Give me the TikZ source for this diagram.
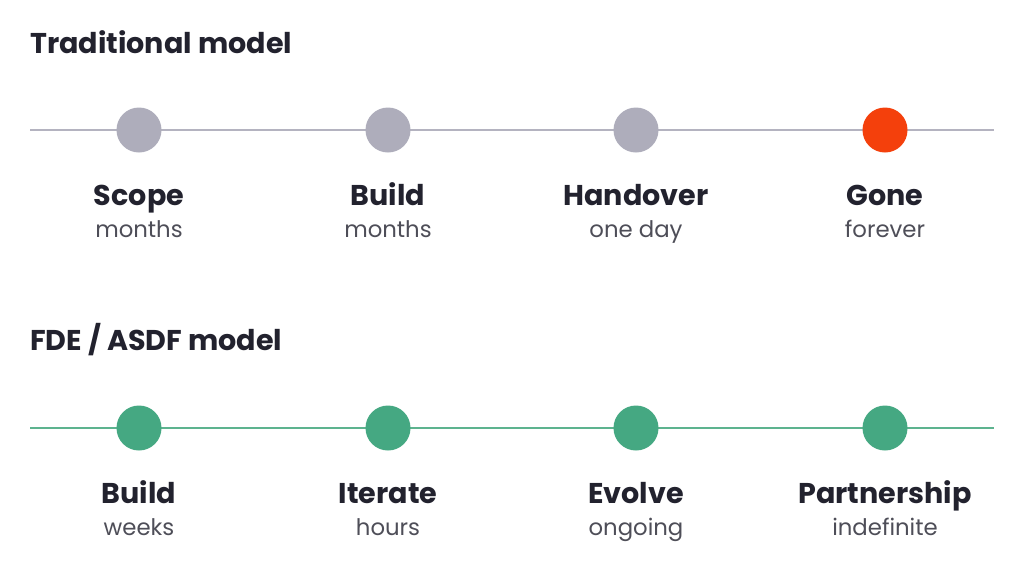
\documentclass[tikz,border=0pt]{standalone}
\usepackage{fontspec}
\setmainfont{Poppins}
\definecolor{ink}{HTML}{22222E}
\definecolor{sub}{HTML}{4E4E58}
\definecolor{grayline}{HTML}{B4B3C0}
\definecolor{graydot}{HTML}{AEADBB}
\definecolor{orangedot}{HTML}{F4400C}
\definecolor{greenline}{HTML}{5DB38F}
\definecolor{greendot}{HTML}{45A882}
\begin{document}
\begin{tikzpicture}[x=1pt,y=-1pt,
  title/.style={anchor=base west,inner sep=0pt,text=ink,font=\fontsize{28.6}{33}\selectfont\bfseries},
  lbl/.style={anchor=base,inner sep=0pt,text=ink,font=\fontsize{28.6}{33}\selectfont\bfseries},
  sublbl/.style={anchor=base,inner sep=0pt,text=sub,font=\fontsize{22.8}{27}\selectfont},
  dot/.style={circle,inner sep=0pt,minimum size=45pt}]
\useasboundingbox[fill=white] (0,0) rectangle (1024,565);
% Traditional
\node[title] (t1) at (30,53) {Traditional model};
\coordinate (l1a) at (30,130);
\coordinate (l1b) at (994,130);
\draw[grayline,line width=1.5pt] (l1a) -- (l1b);
\node[dot,fill=graydot] (d1) at (139,130) {};
\node[dot,fill=graydot] (d2) at (388,130) {};
\node[dot,fill=graydot] (d3) at (636,130) {};
\node[dot,fill=orangedot] (d4) at (885,130) {};
\node[lbl] (a1) at (139,205) {Scope};
\node[lbl] (a2) at (388,205) {Build};
\node[lbl] (a3) at (636,205) {Handover};
\node[lbl] (a4) at (885,205) {Gone};
\node[sublbl] (b1) at (139,237) {months};
\node[sublbl] (b2) at (388,237) {months};
\node[sublbl] (b3) at (636,237) {one day};
\node[sublbl] (b4) at (885,237) {forever};
% FDE
\node[title] (t2) at (30,350) {FDE / ASDF model};
\coordinate (l2a) at (30,428);
\coordinate (l2b) at (994,428);
\draw[greenline,line width=1.5pt] (l2a) -- (l2b);
\node[dot,fill=greendot] (e1) at (139,428) {};
\node[dot,fill=greendot] (e2) at (388,428) {};
\node[dot,fill=greendot] (e3) at (636,428) {};
\node[dot,fill=greendot] (e4) at (885,428) {};
\node[lbl] (c1) at (139,503) {Build};
\node[lbl] (c2) at (388,503) {Iterate};
\node[lbl] (c3) at (636,503) {Evolve};
\node[lbl] (c4) at (885,503) {Partnership};
\node[sublbl] (f1) at (139,535) {weeks};
\node[sublbl] (f2) at (388,535) {hours};
\node[sublbl] (f3) at (636,535) {ongoing};
\node[sublbl] (f4) at (885,535) {indefinite};
\end{tikzpicture}
\end{document}
